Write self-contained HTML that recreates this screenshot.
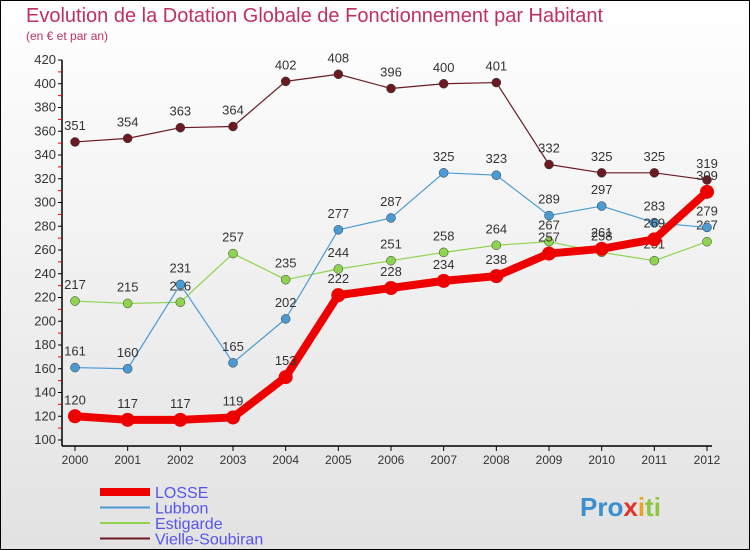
<!DOCTYPE html>
<html><head><meta charset="utf-8"><style>
body{margin:0;}
svg{display:block;font-family:"Liberation Sans","DejaVu Sans",sans-serif;}
</style></head><body>
<svg width="750" height="550" xmlns="http://www.w3.org/2000/svg" id="chart">
<defs><linearGradient id="bg" x1="0" y1="0" x2="0" y2="1"><stop offset="0" stop-color="#ffffff"/><stop offset="1" stop-color="#e2e2e2"/></linearGradient></defs>
<rect x="0.5" y="0.5" width="749" height="549" fill="url(#bg)" stroke="#000"/>
<text x="26" y="22" font-size="20" fill="#c0305e">Evolution de la Dotation Globale de Fonctionnement par Habitant</text>
<text x="26" y="40" font-size="12" fill="#c0305e">(en € et par an)</text>
<g id="axes"></g>
<g id="series"></g>
<g id="legend"></g>
<text x="580" y="516" font-size="26" font-weight="bold" fill="#3a8fd0">Pro<tspan fill="#e0342a">x</tspan><tspan fill="#f0a020">i</tspan><tspan fill="#8cc63f">ti</tspan></text>
</svg>
<script>
const years=[2000,2001,2002,2003,2004,2005,2006,2007,2008,2009,2010,2011,2012];
const yTicks=[100,120,140,160,180,200,220,240,260,280,300,320,340,360,380,400,420];
const losse=[120,117,117,119,153,222,228,234,238,257,261,269,309];
const lubbon=[161,160,231,165,202,277,287,325,323,289,297,283,279];
const estigarde=[217,215,216,257,235,244,251,258,264,267,258,251,267];
const vielle=[351,354,363,364,402,408,396,400,401,332,325,325,319];
const seriesNames=["LOSSE","Lubbon","Estigarde","Vielle-Soubiran"];
const NS="http://www.w3.org/2000/svg";
const x=i=>75+i*(707-75)/12;
const y=v=>440-(v-100)*(380/320);
function mk(t,a,p){const e=document.createElementNS(NS,t);for(const k in a)e.setAttribute(k,a[k]);p.appendChild(e);return e;}
const ax=document.getElementById('axes');
const yl=mk('line',{x1:62,y1:60,x2:62,y2:446,stroke:'#000','stroke-width':1.5},ax);


const xl=mk('line',{x1:62,y1:446,x2:712,y2:446,stroke:'#000','stroke-width':1.5},ax);


yTicks.forEach((v,i)=>{
  mk('line',{x1:58,y1:y(v),x2:62,y2:y(v),stroke:'#000'},ax);
  if(i<yTicks.length-1)mk('line',{x1:58,y1:y(v+10),x2:62,y2:y(v+10),stroke:'#e00'},ax);
  const t=mk('text',{x:56,y:y(v)+4,'font-size':13,'text-anchor':'end',fill:'#333'},ax);
  
  
  t.textContent=v;
});
years.forEach((yr,i)=>{
  mk('line',{x1:x(i),y1:446,x2:x(i),y2:451,stroke:'#000'},ax);
  const t=mk('text',{x:x(i),y:464,'font-size':12,'text-anchor':'middle',fill:'#333'},ax);
  
  
  t.textContent=yr;
});
const sg=document.getElementById('series');
const defs=[[vielle,'#6b1a22',1.2,4.5,'vielle-soubiran'],[estigarde,'#8fd44f',1.2,4.5,'estigarde'],[lubbon,'#4a9ad4',1.2,4.5,'lubbon'],[losse,'#ee0000',8,7,'losse']];
defs.forEach(([d,c,w,r,n])=>{
  const g=mk('g',{},sg);
  
  
  const p=mk('polyline',{points:d.map((v,i)=>x(i)+','+y(v)).join(' '),fill:'none',stroke:c,'stroke-width':w,'stroke-linejoin':'round'},g);
  
  
  d.forEach((v,i)=>{
    const pt=mk('circle',{cx:x(i),cy:y(v),r:r,fill:c,stroke:w>2?'none':'#333','stroke-width':0.5},g);
    
    
    const t=mk('text',{x:x(i),y:y(v)-12,'font-size':13,'text-anchor':'middle',fill:'#333'},g);
    
    
    t.textContent=v;
  });
});
const lg=document.getElementById('legend');
const lc=['#ee0000','#4a9ad4','#8fd44f','#6b1a22'],lw=[8,2,2,2];
seriesNames.forEach((s,i)=>{
  const yy=492+i*15.5;
  const l=mk('line',{x1:100,y1:yy,x2:150,y2:yy,stroke:lc[i],'stroke-width':lw[i]},lg);
  
  
  const t=mk('text',{x:155,y:yy+6,'font-size':16,fill:'#5555ee'},lg);
  
  
  t.textContent=s;
});
</script>
</body></html>
